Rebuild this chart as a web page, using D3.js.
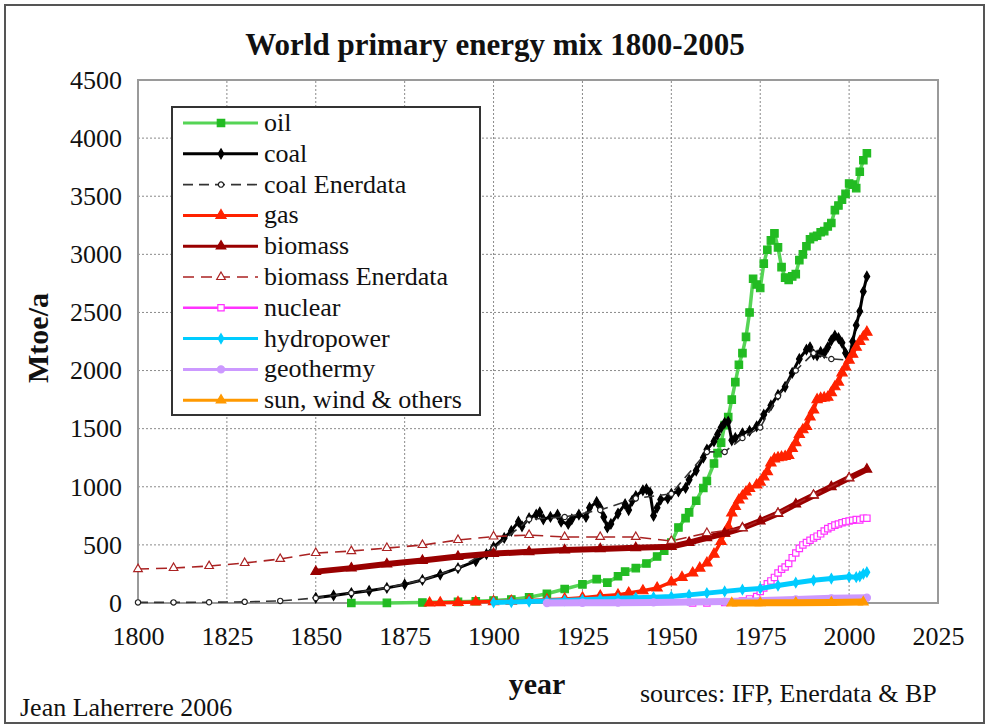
<!DOCTYPE html>
<html><head><meta charset="utf-8">
<script src="https://cdn.jsdelivr.net/npm/d3@7"></script>
<style>
body{margin:0;background:#fff;}
text{font-family:"Liberation Serif","Times New Roman",serif;fill:#111;}
</style></head>
<body>
<svg id="chart" width="989" height="727"></svg>
<script>
// ---------- data ----------
const xTicks = [1800,1825,1850,1875,1900,1925,1950,1975,2000,2025];
const yTicks = [0,500,1000,1500,2000,2500,3000,3500,4000,4500];

const oilYears  = [1860,1870,1880,1890,1895,1900,1905,1910,1915,1920,1925,1929,1932,1935,1937,1940,1943,1946,1948,1950,1952,1954,1955,1957,1959,1960,1962,1963,1964,1965,1966,1967,1968,1969,1970,1971,1972,1973,1974,1975,1976,1977,1978,1979,1980,1981,1982,1983,1984,1985,1986,1987,1988,1989,1990,1991,1992,1993,1994,1995,1996,1997,1998,1999,2000,2001,2002,2003,2004,2005];
const oilValues = [0,1,4,10,15,22,30,50,80,120,160,205,175,230,270,300,340,400,450,520,650,730,780,880,990,1050,1200,1290,1380,1530,1600,1750,1900,2050,2150,2290,2500,2790,2740,2710,2920,3040,3120,3180,3060,2890,2800,2780,2810,2830,2950,3000,3070,3130,3150,3160,3190,3200,3240,3270,3380,3420,3470,3520,3610,3600,3570,3710,3810,3870];

const coalYears  = [1850,1855,1860,1865,1870,1875,1880,1885,1890,1895,1898,1900,1903,1905,1907,1908,1910,1912,1913,1914,1916,1918,1919,1921,1922,1924,1926,1927,1929,1930,1931,1932,1933,1935,1937,1938,1939,1940,1942,1943,1944,1945,1946,1947,1949,1950,1952,1954,1955,1957,1959,1960,1962,1963,1964,1965,1966,1967,1968,1970,1972,1974,1976,1978,1980,1982,1984,1986,1988,1989,1990,1991,1992,1993,1994,1995,1996,1997,1998,1999,2000,2001,2002,2003,2004,2005];
const coalValues = [45,65,86,105,130,160,198,245,300,360,420,480,560,620,700,660,730,760,780,720,740,760,700,680,720,760,740,820,870,820,740,650,680,770,850,800,880,920,970,980,950,750,820,890,900,940,960,990,1060,1140,1250,1320,1390,1450,1510,1550,1560,1400,1420,1460,1480,1520,1620,1700,1790,1860,1980,2100,2180,2200,2140,2130,2160,2150,2200,2260,2300,2280,2240,2150,2110,2250,2390,2510,2680,2810];

const coalEnerYears  = [1800,1810,1820,1830,1840,1850,1860,1870,1880,1890,1900,1910,1920,1930,1940,1950,1960,1965,1970,1975,1980,1985,1990,1995,2000];
const coalEnerValues = [5,5,7,10,18,43,86,130,198,300,470,720,740,800,900,940,1300,1300,1420,1510,1780,2000,2150,2100,2090];

const gasYears  = [1882,1885,1890,1895,1900,1905,1910,1915,1920,1925,1930,1935,1938,1942,1946,1950,1953,1956,1958,1960,1962,1964,1965,1966,1967,1968,1969,1970,1971,1972,1974,1975,1976,1977,1978,1979,1980,1981,1982,1983,1984,1985,1986,1987,1988,1989,1990,1991,1992,1993,1994,1995,1996,1997,1998,1999,2000,2001,2002,2003,2004,2005];
const gasValues = [0,2,5,8,12,16,22,28,35,45,60,70,86,105,129,180,220,258,300,344,420,530,600,654,774,830,886,920,955,985,1015,1040,1085,1130,1205,1240,1250,1255,1260,1270,1330,1380,1450,1490,1520,1600,1660,1750,1760,1765,1770,1810,1860,1900,1980,2030,2090,2140,2200,2250,2290,2330];

const bioYears  = [1850,1860,1870,1880,1890,1900,1910,1920,1930,1940,1950,1955,1960,1965,1970,1975,1980,1985,1990,1995,2000,2005];
const bioValues = [270,300,335,365,400,425,440,455,465,475,485,520,560,600,645,705,770,850,925,1000,1075,1150];

const bioEnerYears  = [1800,1810,1820,1830,1840,1850,1860,1870,1880,1890,1900,1910,1920,1930,1940,1950,1960,1970,1980,1990,2000];
const bioEnerValues = [292,301,318,344,379,430,447,473,499,542,572,585,568,568,568,534,602,645,774,929,1076];

const nucYears  = [1956,1960,1965,1968,1970,1972,1974,1975,1976,1977,1978,1979,1980,1981,1982,1983,1984,1985,1986,1987,1988,1989,1990,1991,1992,1993,1994,1995,1996,1997,1998,1999,2000,2001,2002,2003,2004,2005];
const nucValues = [0,1,5,10,18,35,55,100,130,165,190,220,258,290,310,340,390,430,470,500,520,540,560,575,595,620,640,655,670,680,690,700,705,712,718,715,730,730];

const hydroYears  = [1900,1905,1910,1915,1920,1925,1930,1935,1940,1945,1950,1955,1960,1965,1970,1975,1980,1985,1990,1995,2000,2002,2003,2004,2005];
const hydroValues = [5,8,12,18,22,28,35,40,45,50,55,70,85,100,115,125,150,175,195,210,225,222,230,250,265];

const geoYears  = [1915,1925,1935,1945,1955,1965,1975,1985,1995,2005];
const geoValues = [0,2,3,5,8,12,20,30,40,45];

const sunYears  = [1967,1975,1985,1995,2004];
const sunValues = [0,1,3,5,8];

const seriesNames = ["oil","coal","coal Enerdata","gas","biomass","biomass Enerdata","nuclear","hydropower","geothermy","sun, wind & others"];

// ---------- drawing ----------
const svg = d3.select("#chart");
const x = d3.scaleLinear().domain([1800,2025]).range([138,938]);
const y = d3.scaleLinear().domain([0,4500]).range([603,80]);

// outer frame
svg.append("rect").attr("x",5).attr("y",5).attr("width",979).attr("height",718)
  .attr("fill","#fff").attr("stroke","#555").attr("stroke-width",2);

// title
svg.append("text").attr("x",495).attr("y",55).attr("text-anchor","middle")
  .attr("font-size",31).attr("font-weight","bold").text("World primary energy mix 1800-2005");

// gridlines
const grid = svg.append("g");
grid.selectAll("line.h").data(yTicks).join("line")
  .attr("x1",x(1800)).attr("x2",x(2025)).attr("y1",d=>y(d)).attr("y2",d=>y(d))
  .attr("stroke","#8a8a8a").attr("stroke-width",1).attr("stroke-dasharray","2,2");
grid.selectAll("line.v").data(xTicks).join("line")
  .attr("y1",y(0)).attr("y2",y(4500)).attr("x1",d=>x(d)).attr("x2",d=>x(d))
  .attr("stroke","#8a8a8a").attr("stroke-width",1).attr("stroke-dasharray","2,2");

// plot border
svg.append("rect").attr("x",x(1800)).attr("y",y(4500)).attr("width",x(2025)-x(1800)).attr("height",y(0)-y(4500))
  .attr("fill","none").attr("stroke","#9a9a9a").attr("stroke-width",2);

// axes
const yAxis = svg.append("g").attr("transform",`translate(${x(1800)},0)`)
  .call(d3.axisLeft(y).tickValues(yTicks).tickSize(0).tickPadding(16).tickFormat(d3.format("d")));
yAxis.select(".domain").remove();
yAxis.selectAll("text").attr("font-size",26).attr("font-family","Liberation Serif, serif").attr("fill","#111");

const xAxis = svg.append("g").attr("transform",`translate(0,${y(0)})`)
  .call(d3.axisBottom(x).tickValues(xTicks).tickSize(0).tickPadding(24).tickFormat(d3.format("d")));
xAxis.select(".domain").remove();
xAxis.selectAll("text").attr("font-size",26).attr("font-family","Liberation Serif, serif").attr("fill","#111");

// axis titles & notes
svg.append("text").attr("transform","translate(48,338) rotate(-90)").attr("text-anchor","middle")
  .attr("font-size",30).attr("font-weight","bold").text("Mtoe/a");
svg.append("text").attr("x",537).attr("y",694).attr("text-anchor","middle")
  .attr("font-size",30).attr("font-weight","bold").text("year");
svg.append("text").attr("x",640).attr("y",702).attr("font-size",26).text("sources: IFP, Enerdata & BP");
svg.append("text").attr("x",20).attr("y",716).attr("font-size",26).text("Jean Laherrere 2006");

// series definitions
const series = [
  {name:seriesNames[0], xs:oilYears, ys:oilValues, line:"#55d455", mark:"#22bb22", fill:"#22bb22", sym:d3.symbolSquare, size:55, w:3.5, dash:null},
  {name:seriesNames[1], xs:coalYears, ys:coalValues, line:"#000", mark:"#000", fill:"#000", sym:d3.symbolDiamond, size:28, w:3, dash:null},
  {name:seriesNames[2], xs:coalEnerYears, ys:coalEnerValues, line:"#333", mark:"#222", fill:"#fff", sym:d3.symbolCircle, size:22, w:1.6, dash:"10,6"},
  {name:seriesNames[3], xs:gasYears, ys:gasValues, line:"#ff2200", mark:"#ff2200", fill:"#ff2200", sym:d3.symbolTriangle, size:45, w:3.5, dash:null},
  {name:seriesNames[4], xs:bioYears, ys:bioValues, line:"#990000", mark:"#990000", fill:"#990000", sym:d3.symbolTriangle, size:40, w:6, dash:null},
  {name:seriesNames[5], xs:bioEnerYears, ys:bioEnerValues, line:"#aa2222", mark:"#aa2222", fill:"#fff", sym:d3.symbolTriangle, size:32, w:1.6, dash:"11,7"},
  {name:seriesNames[6], xs:nucYears, ys:nucValues, line:"#ff33ff", mark:"#ff33ff", fill:"#fff", sym:d3.symbolSquare, size:40, w:2.5, dash:null},
  {name:seriesNames[7], xs:hydroYears, ys:hydroValues, line:"#00ccff", mark:"#00ccff", fill:"#00ccff", sym:d3.symbolDiamond, size:28, w:5, dash:null},
  {name:seriesNames[8], xs:geoYears, ys:geoValues, line:"#cc99ff", mark:"#cc99ff", fill:"#cc99ff", sym:d3.symbolCircle, size:40, w:7, dash:null},
  {name:seriesNames[9], xs:sunYears, ys:sunValues, line:"#ff9900", mark:"#ff9900", fill:"#ff9900", sym:d3.symbolTriangle, size:40, w:7, dash:null}
];

const lineGen = d3.line().x(d=>x(d[0])).y(d=>y(d[1]));
const plot = svg.append("g");
series.forEach(s=>{
  const pts = s.xs.map((v,i)=>[v,s.ys[i]]);
  const g = plot.append("g");
  g.append("path").datum(pts).attr("d",lineGen).attr("fill","none")
    .attr("stroke",s.line).attr("stroke-width",s.w).attr("stroke-dasharray",s.dash)
    .attr("stroke-linejoin","round");
  g.selectAll("path.m").data(pts).join("path").attr("class","m")
    .attr("transform",d=>`translate(${x(d[0])},${y(d[1])})`)
    .attr("d",d3.symbol().type(s.sym).size(s.size))
    .attr("fill",s.fill).attr("stroke",s.mark).attr("stroke-width",1.2);
});

// legend
const lg = svg.append("g");
lg.append("rect").attr("x",172).attr("y",107).attr("width",308).attr("height",308)
  .attr("fill","#fff").attr("stroke","#333").attr("stroke-width",2);
series.forEach((s,i)=>{
  const yy = 123 + i*30.8;
  lg.append("line").attr("x1",183).attr("x2",258).attr("y1",yy).attr("y2",yy)
    .attr("stroke",s.line).attr("stroke-width",Math.min(s.w,3)).attr("stroke-dasharray",s.dash);
  lg.append("path").attr("transform",`translate(221,${yy})`)
    .attr("d",d3.symbol().type(s.sym).size(s.size))
    .attr("fill",s.fill).attr("stroke",s.mark).attr("stroke-width",1.2);
  lg.append("text").attr("x",264).attr("y",yy+8).attr("font-size",26).text(s.name);
});
</script>
</body></html>
